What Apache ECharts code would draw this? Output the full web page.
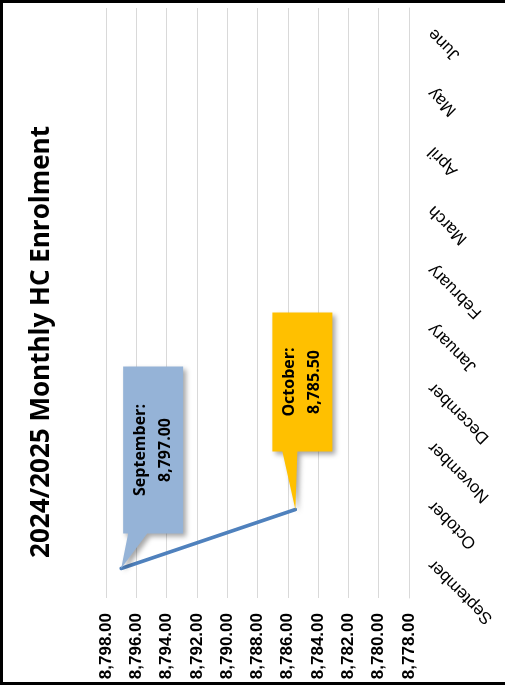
<!DOCTYPE html>
<html>
<head>
<meta charset="utf-8">
<script src="https://cdn.jsdelivr.net/npm/echarts@6/dist/echarts.min.js"></script>
<style>
  html, body { margin: 0; padding: 0; background: #fff; }
  #chart { position: absolute; left: 0; top: 0; width: 505px; height: 685px; }
  #frame { position: absolute; left: 0; top: 0; width: 505px; height: 685px; box-sizing: border-box;
           border-left: 3px solid #000; border-top: 3px solid #000; border-bottom: 3px solid #000; pointer-events: none; }
</style>
</head>
<body>
<div id="chart"></div>
<div id="frame"></div>
<script>
var months = ['September', 'October', 'November', 'December', 'January', 'February',
    'March', 'April', 'May', 'June'];
var enrolment = [8797.00, 8785.50, null, null, null, null, null, null, null, null];
var valueMin = 8778;
var valueMax = 8798;
var valueStep = 2;
var chartTitle = '2024/2025 Monthly HC Enrolment';

// callout boxes, offsets relative to the data point
var callouts = [
    { dx: 2, dy: -202, w: 60, h: 167, base: [7, 26], color: '#95B3D7' },
    { dx: -23, dy: -197, w: 60, h: 139, base: [-13, 2], color: '#FFC000' }
];

function fmt(v) {
    var s = v.toFixed(2).split('.');
    return s[0].replace(/\B(?=(\d{3})+(?!\d))/g, ',') + '.' + s[1];
}

var points = [];
enrolment.forEach(function (v, i) {
    if (v != null) points.push([v, i]);
});

var myChart = echarts.init(document.getElementById('chart'));
var option = {
    animation: false,
    grid: { left: 106, right: 96, top: 8, bottom: 87 },
    graphic: [{
        type: 'text',
        x: 42, y: 342,
        rotation: Math.PI / 2,
        style: {
            text: chartTitle,
            font: 'bold 26px "Open Sans"',
            fill: '#000',
            align: 'center',
            verticalAlign: 'middle'
        }
    }],
    xAxis: {
        type: 'value',
        inverse: true,
        min: valueMin,
        max: valueMax,
        interval: valueStep,
        axisLine: { show: false },
        axisTick: { show: false },
        splitLine: { lineStyle: { color: '#D9D9D9', width: 1 } },
        axisLabel: {
            rotate: 90,
            margin: 15,
            fontFamily: 'Liberation Sans',
            fontWeight: 'bold',
            fontSize: 17,
            color: '#000',
            formatter: fmt
        }
    },
    yAxis: {
        type: 'category',
        position: 'right',
        data: months,
        axisLine: { show: true, lineStyle: { color: '#D9D9D9', width: 1 } },
        axisTick: { show: false },
        splitLine: { show: false },
        axisLabel: {
            rotate: 135,
            margin: 16,
            verticalAlign: 'top',
            fontFamily: 'Liberation Sans',
            fontSize: 17,
            color: '#000'
        }
    },
    series: [
        {
            type: 'line',
            data: enrolment,
            symbol: 'none',
            lineStyle: { color: '#4F81BD', width: 3.5, cap: 'round' },
            z: 2
        },
        {
            type: 'custom',
            data: points,
            z: 3,
            renderItem: function (params, api) {
                var c = callouts[params.dataIndex];
                var p = api.coord([api.value(0), api.value(1)]);
                var x0 = p[0] + c.dx, y0 = p[1] + c.dy;
                var name = months[api.value(1)];
                return {
                    type: 'group',
                    children: [
                        {
                            type: 'polygon',
                            shape: { points: [
                                [x0, y0], [x0 + c.w, y0], [x0 + c.w, y0 + c.h],
                                [p[0] + c.base[1], y0 + c.h], [p[0], p[1]],
                                [p[0] + c.base[0], y0 + c.h], [x0, y0 + c.h]
                            ] },
                            style: {
                                fill: c.color,
                                shadowBlur: 5,
                                shadowOffsetX: 3,
                                shadowOffsetY: 3,
                                shadowColor: 'rgba(0,0,0,0.35)'
                            }
                        },
                        {
                            type: 'text',
                            x: x0 + c.w / 2,
                            y: y0 + c.h / 2,
                            rotation: Math.PI / 2,
                            style: {
                                text: name + ':\n' + fmt(api.value(0)),
                                font: 'bold 16px "Open Sans"',
                                lineHeight: 25,
                                fill: '#000',
                                align: 'center',
                                verticalAlign: 'middle'
                            }
                        }
                    ]
                };
            }
        }
    ]
};
myChart.setOption(option);
</script>
</body>
</html>
